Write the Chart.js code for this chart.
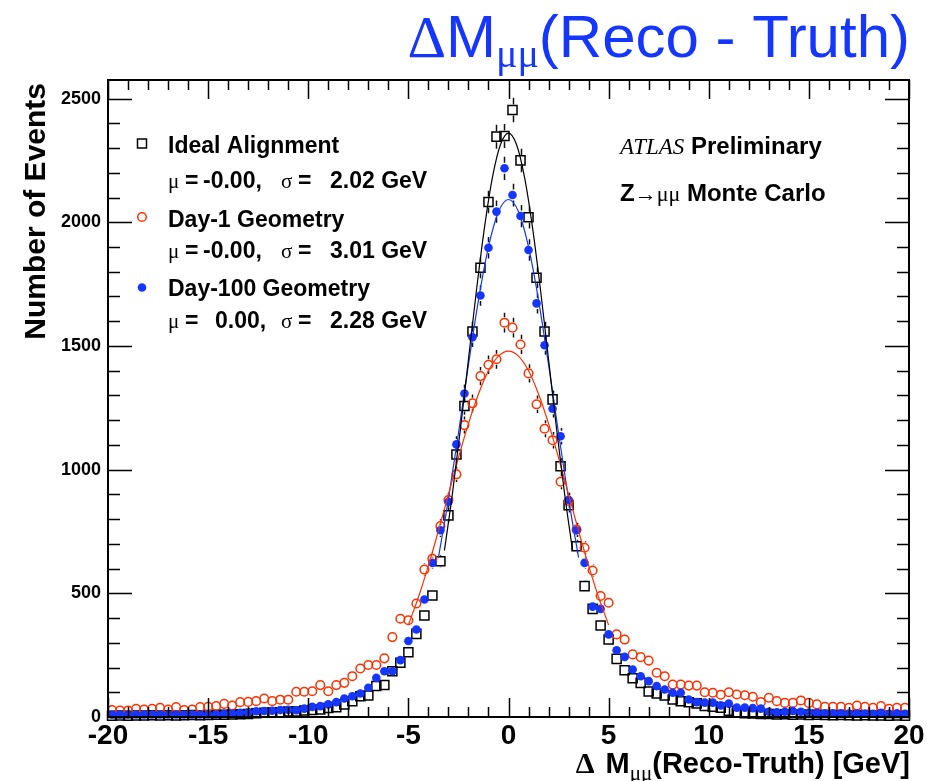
<!DOCTYPE html>
<html>
<head>
<meta charset="utf-8">
<script src="https://cdn.jsdelivr.net/npm/chart.js@4.4.0/dist/chart.umd.min.js"></script>
<style>
  html, body { margin: 0; padding: 0; background: #fff; }
</style>
</head>
<body>
<canvas id="myChart" width="936" height="781"></canvas>
<script>
// 100 bins of 0.4 GeV between -20 and 20 GeV
const binCenters = [];
for (let i = 0; i < 100; i++) binCenters.push(+(-19.8 + 0.4 * i).toFixed(1));

// Ideal Alignment (open squares)
const idealCounts = [
  5, 6, 5, 6, 6, 7, 6, 7, 6, 7, 8, 7, 8, 9, 9, 10, 11, 12,
  15, 17, 17, 19, 22, 22, 26, 28, 30, 36, 40, 51, 64, 84, 87, 125, 129, 185, 219, 262,
  336, 410, 491, 630, 815, 1061, 1257, 1558, 1816, 2082, 2346, 2349,
  2454, 2250, 2020, 1776, 1558, 1284, 1014, 856, 690, 529, 437, 370, 313, 235, 189, 157,
  138, 103, 95, 87, 71, 64, 60, 55, 45, 42, 38, 25, 17, 15, 14,
  12, 12, 10, 11, 9, 10, 8, 9, 8, 7, 8, 7, 6, 7, 6, 6, 5, 6, 5
];

// Day-1 Geometry (open circles)
const day1Counts = [
  28, 26, 26, 33, 30, 33, 37, 30, 40, 28, 30, 40, 41, 44, 53, 46, 60, 61, 64, 75, 64, 70, 70,
  102, 102, 104, 129, 104, 129, 138, 165, 196, 210, 210, 237, 323, 397, 391,
  459, 596, 640, 772, 877, 981, 1180, 1268, 1378, 1424, 1446, 1594,
  1574, 1506, 1389, 1264, 1165, 1119, 951, 873, 758, 684, 592, 489, 462, 334, 313, 253,
  242, 228, 179, 165, 131, 131, 127, 127, 100, 98, 90, 100, 91, 88, 82,
  60, 78, 64, 57, 57, 67, 57, 51, 41, 41, 41, 37, 46, 41, 37, 44, 33, 37, 37
];

// Day-100 Geometry (full circles)
const day100Counts = [
  10, 10, 10, 10, 10, 10, 10, 10, 10, 10, 10, 10, 10, 10,
  13, 14, 17, 19, 23, 24, 25, 28, 29, 27, 34, 41, 44, 51, 60, 75, 84, 95, 118, 158, 185, 185, 230, 307,
  354, 475, 623, 755, 870, 1102, 1308, 1535, 1704, 1897, 2043, 2218,
  2110, 2025, 1888, 1672, 1503, 1246, 1135, 877, 755, 623, 446, 437, 334, 270, 243, 192,
  165, 145, 125, 111, 98, 98, 71, 60, 58, 58, 47, 54, 38, 38, 36,
  34, 21, 19, 21, 24, 21, 18, 17, 15, 15, 15, 14, 14, 14, 13, 17, 13, 15, 13
];

// Fitted curves
const idealFitX = [-3.2, -2.8, -2.4, -2.0, -1.6, -1.2, -0.8, -0.4, 0, 0.4, 0.8, 1.2, 1.6, 2.0, 2.4, 2.8, 3.2];
const idealFitY = [673, 903, 1165, 1446, 1725, 1978, 2182, 2314, 2360, 2314, 2182, 1978, 1725, 1446, 1165, 903, 673];
const day1FitX = [-5, -4.5, -4, -3.5, -3, -2.5, -2, -1.5, -1, -0.5, 0, 0.5, 1, 1.5, 2, 2.5, 3, 3.5, 4, 4.5, 5];
const day1FitY = [372, 484, 612, 752, 900, 1048, 1186, 1306, 1400, 1459, 1479, 1459, 1400, 1306, 1186, 1048, 900, 752, 612, 484, 372];
const day100FitX = [-3.5, -3, -2.5, -2, -1.5, -1, -0.5, 0, 0.5, 1, 1.5, 2, 2.5, 3, 3.5];
const day100FitY = [644, 881, 1147, 1424, 1685, 1900, 2042, 2092, 2042, 1900, 1685, 1424, 1147, 881, 644];

// axis tick labels
const xTickValues = [-20, -15, -10, -5, 0, 5, 10, 15, 20];
const yTickValues = [0, 500, 1000, 1500, 2000, 2500];

const RED = '#ff3000';
const BLUE = '#1436ff';
const SANS = '"Liberation Sans", Arial, Helvetica, sans-serif';
const SERIF = '"Liberation Serif", "Times New Roman", serif';

const pts = (xs, ys) => xs.map((x, i) => ({ x: x, y: ys[i] }));

// draw several text pieces in a row (fonts may differ)
function textRun(ctx, parts, x, y, alignRight) {
    let w = 0;
    parts.forEach(p => { ctx.font = p.f; p.w = ctx.measureText(p.t).width; w += p.w; });
    let cx = alignRight ? x - w : x;
    parts.forEach(p => {
        ctx.font = p.f;
        ctx.fillText(p.t, cx, y + (p.dy || 0));
        cx += p.w;
    });
}

// statistical error bars, with a gap around the marker
const errorBars = {
    id: 'errorBars',
    beforeDatasetsDraw(chart) {
        const ctx = chart.ctx, xs = chart.scales.x, ys = chart.scales.y;
        ctx.save();
        ctx.strokeStyle = '#111';
        ctx.lineWidth = 1.5;
        chart.data.datasets.forEach(ds => {
            if (!ds.errorBars) return;
            ds.data.forEach(p => {
                const px = Math.round(xs.getPixelForValue(p.x)) + 0.5;
                const yc = ys.getPixelForValue(p.y);
                const yt = ys.getPixelForValue(p.y + Math.sqrt(p.y));
                const yb = ys.getPixelForValue(p.y - Math.sqrt(p.y));
                const gap = 5.5;
                ctx.beginPath();
                if (yc - yt > gap) { ctx.moveTo(px, yt); ctx.lineTo(px, yc - gap); }
                if (yb - yc > gap) { ctx.moveTo(px, yc + gap); ctx.lineTo(px, yb); }
                ctx.stroke();
            });
        });
        ctx.restore();
    }
};

// ROOT style frame: ticks on all four sides pointing inwards, plus all the texts
const rootFrame = {
    id: 'rootFrame',
    afterDraw(chart) {
        const ctx = chart.ctx, xs = chart.scales.x, ys = chart.scales.y;
        const a = chart.chartArea;
        ctx.save();
        ctx.strokeStyle = '#000';
        ctx.lineWidth = 2;
        ctx.strokeRect(a.left, a.top, a.right - a.left, a.bottom - a.top);

        ctx.lineWidth = 1.5;
        ctx.beginPath();
        for (let v = -20; v <= 20; v += 1) {
            const px = Math.round(xs.getPixelForValue(v)) + 0.5;
            const len = v % 5 === 0 ? 19 : 10;
            ctx.moveTo(px, a.bottom); ctx.lineTo(px, a.bottom - len);
            ctx.moveTo(px, a.top); ctx.lineTo(px, a.top + len);
        }
        for (let v = 0; v <= 2500; v += 100) {
            const py = Math.round(ys.getPixelForValue(v)) + 0.5;
            const len = v % 500 === 0 ? 24 : 12;
            ctx.moveTo(a.left, py); ctx.lineTo(a.left + len, py);
            ctx.moveTo(a.right, py); ctx.lineTo(a.right - len, py);
        }
        ctx.stroke();

        ctx.fillStyle = '#000';
        ctx.textBaseline = 'alphabetic';
        ctx.textAlign = 'left';

        // title
        ctx.fillStyle = BLUE;
        textRun(ctx, [
            { t: 'Δ', f: '60px ' + SERIF },
            { t: 'M', f: '60px ' + SANS },
            { t: 'μμ', f: '40px ' + SERIF, dy: 10 },
            { t: '(Reco - Truth)', f: '60px ' + SANS }
        ], 910, 57, true);

        // axis titles
        ctx.fillStyle = '#000';
        textRun(ctx, [
            { t: 'Δ', f: 'bold 30px ' + SERIF },
            { t: '  ', f: 'bold 20px ' + SANS },
            { t: 'M', f: 'bold 29px ' + SANS },
            { t: 'μμ', f: '21px ' + SERIF, dy: 7 },
            { t: '(Reco-Truth) [GeV]', f: 'bold 29px ' + SANS }
        ], 910, 773, true);

        ctx.save();
        ctx.translate(45, 83);
        ctx.rotate(-Math.PI / 2);
        ctx.textAlign = 'right';
        ctx.font = 'bold 30px ' + SANS;
        ctx.fillText('Number of Events', 0, 0);
        ctx.restore();

        // legend
        const B = 'bold 23px ' + SANS, S = '21px ' + SERIF;
        ctx.lineWidth = 1.5;
        ctx.strokeStyle = '#000';
        ctx.strokeRect(137.5, 139, 9, 9);
        ctx.strokeStyle = RED;
        ctx.beginPath(); ctx.arc(142, 217, 4.3, 0, Math.PI * 2); ctx.stroke();
        ctx.fillStyle = BLUE;
        ctx.beginPath(); ctx.arc(142, 287.5, 4.3, 0, Math.PI * 2); ctx.fill();

        ctx.fillStyle = '#000';
        const legendRows = [
            ['Ideal Alignment', '-0.00,', '2.02 GeV', 153, 188],
            ['Day-1 Geometry', '-0.00,', '3.01 GeV', 227, 258],
            ['Day-100 Geometry', '0.00,', '2.28 GeV', 296, 328]
        ];
        legendRows.forEach(r => {
            ctx.font = B;
            ctx.fillText(r[0], 168, r[3]);
            ctx.font = S; ctx.fillText('μ', 168, r[4]);
            ctx.font = B; ctx.fillText('=', 185, r[4]);
            ctx.fillText(r[1], r[1][0] === '-' ? 203 : 215, r[4]);
            ctx.font = S; ctx.fillText('σ', 281, r[4]);
            ctx.font = B; ctx.fillText('=', 298, r[4]);
            ctx.fillText(r[2], 330, r[4]);
        });

        // ATLAS label
        textRun(ctx, [
            { t: 'ATLAS', f: 'italic 23px ' + SERIF },
            { t: ' Preliminary', f: 'bold 24px ' + SANS }
        ], 620, 154, false);
        textRun(ctx, [
            { t: 'Z', f: 'bold 24px ' + SANS },
            { t: '→μμ', f: '22px ' + SERIF },
            { t: ' Monte Carlo', f: 'bold 24px ' + SANS }
        ], 620, 201, false);

        ctx.restore();
    }
};

const config = {
    type: 'scatter',
    data: {
        datasets: [
            {
                label: 'Ideal fit', type: 'line', data: pts(idealFitX, idealFitY),
                borderColor: '#000', borderWidth: 1.2, pointRadius: 0,
                cubicInterpolationMode: 'monotone', fill: false, order: 1
            },
            {
                label: 'Day-1 fit', type: 'line', data: pts(day1FitX, day1FitY),
                borderColor: RED, borderWidth: 1.2, pointRadius: 0,
                cubicInterpolationMode: 'monotone', fill: false, order: 1
            },
            {
                label: 'Day-100 fit', type: 'line', data: pts(day100FitX, day100FitY),
                borderColor: BLUE, borderWidth: 1.2, pointRadius: 0,
                cubicInterpolationMode: 'monotone', fill: false, order: 1
            },
            {
                label: 'Day-100 Geometry', data: pts(binCenters, day100Counts), errorBars: true,
                pointStyle: 'circle', pointRadius: 4.3, pointBackgroundColor: BLUE,
                pointBorderColor: BLUE, pointBorderWidth: 0, clip: false, order: 2
            },
            {
                label: 'Day-1 Geometry', data: pts(binCenters, day1Counts), errorBars: true,
                pointStyle: 'circle', pointRadius: 4.3, pointBackgroundColor: 'rgba(0,0,0,0)',
                pointBorderColor: RED, pointBorderWidth: 1.5, clip: false, order: 3
            },
            {
                label: 'Ideal Alignment', data: pts(binCenters, idealCounts), errorBars: true,
                pointStyle: 'rect', pointRadius: 6.4, pointBackgroundColor: 'rgba(0,0,0,0)',
                pointBorderColor: '#000', pointBorderWidth: 1.5, clip: false, order: 4
            }
        ]
    },
    options: {
        responsive: false,
        animation: false,
        layout: { padding: { top: 80, right: 27, bottom: 0, left: 0 } },
        plugins: {
            legend: { display: false },
            tooltip: { enabled: false },
            title: { display: false }
        },
        scales: {
            x: {
                type: 'linear', min: -20, max: 20,
                grid: { display: false, drawTicks: false },
                border: { display: false },
                afterBuildTicks(s) { s.ticks = xTickValues.map(v => ({ value: v })); },
                ticks: {
                    autoSkip: false, maxRotation: 0, padding: 2,
                    color: '#000',
                    callback: v => String(v),
                    font: { family: SANS, size: 28, weight: 'bold' }
                },
                afterFit(s) { s.height = 64; }
            },
            y: {
                type: 'linear', min: 0, max: 2575,
                grid: { display: false, drawTicks: false },
                border: { display: false },
                afterBuildTicks(s) { s.ticks = yTickValues.map(v => ({ value: v })); },
                ticks: {
                    padding: 7,
                    color: '#000',
                    callback: v => String(v),
                    font: { family: SANS, size: 18, weight: 'bold' }
                },
                afterFit(s) { s.width = 108; }
            }
        }
    },
    plugins: [errorBars, rootFrame]
};

new Chart(document.getElementById('myChart').getContext('2d'), config);
</script>
</body>
</html>
